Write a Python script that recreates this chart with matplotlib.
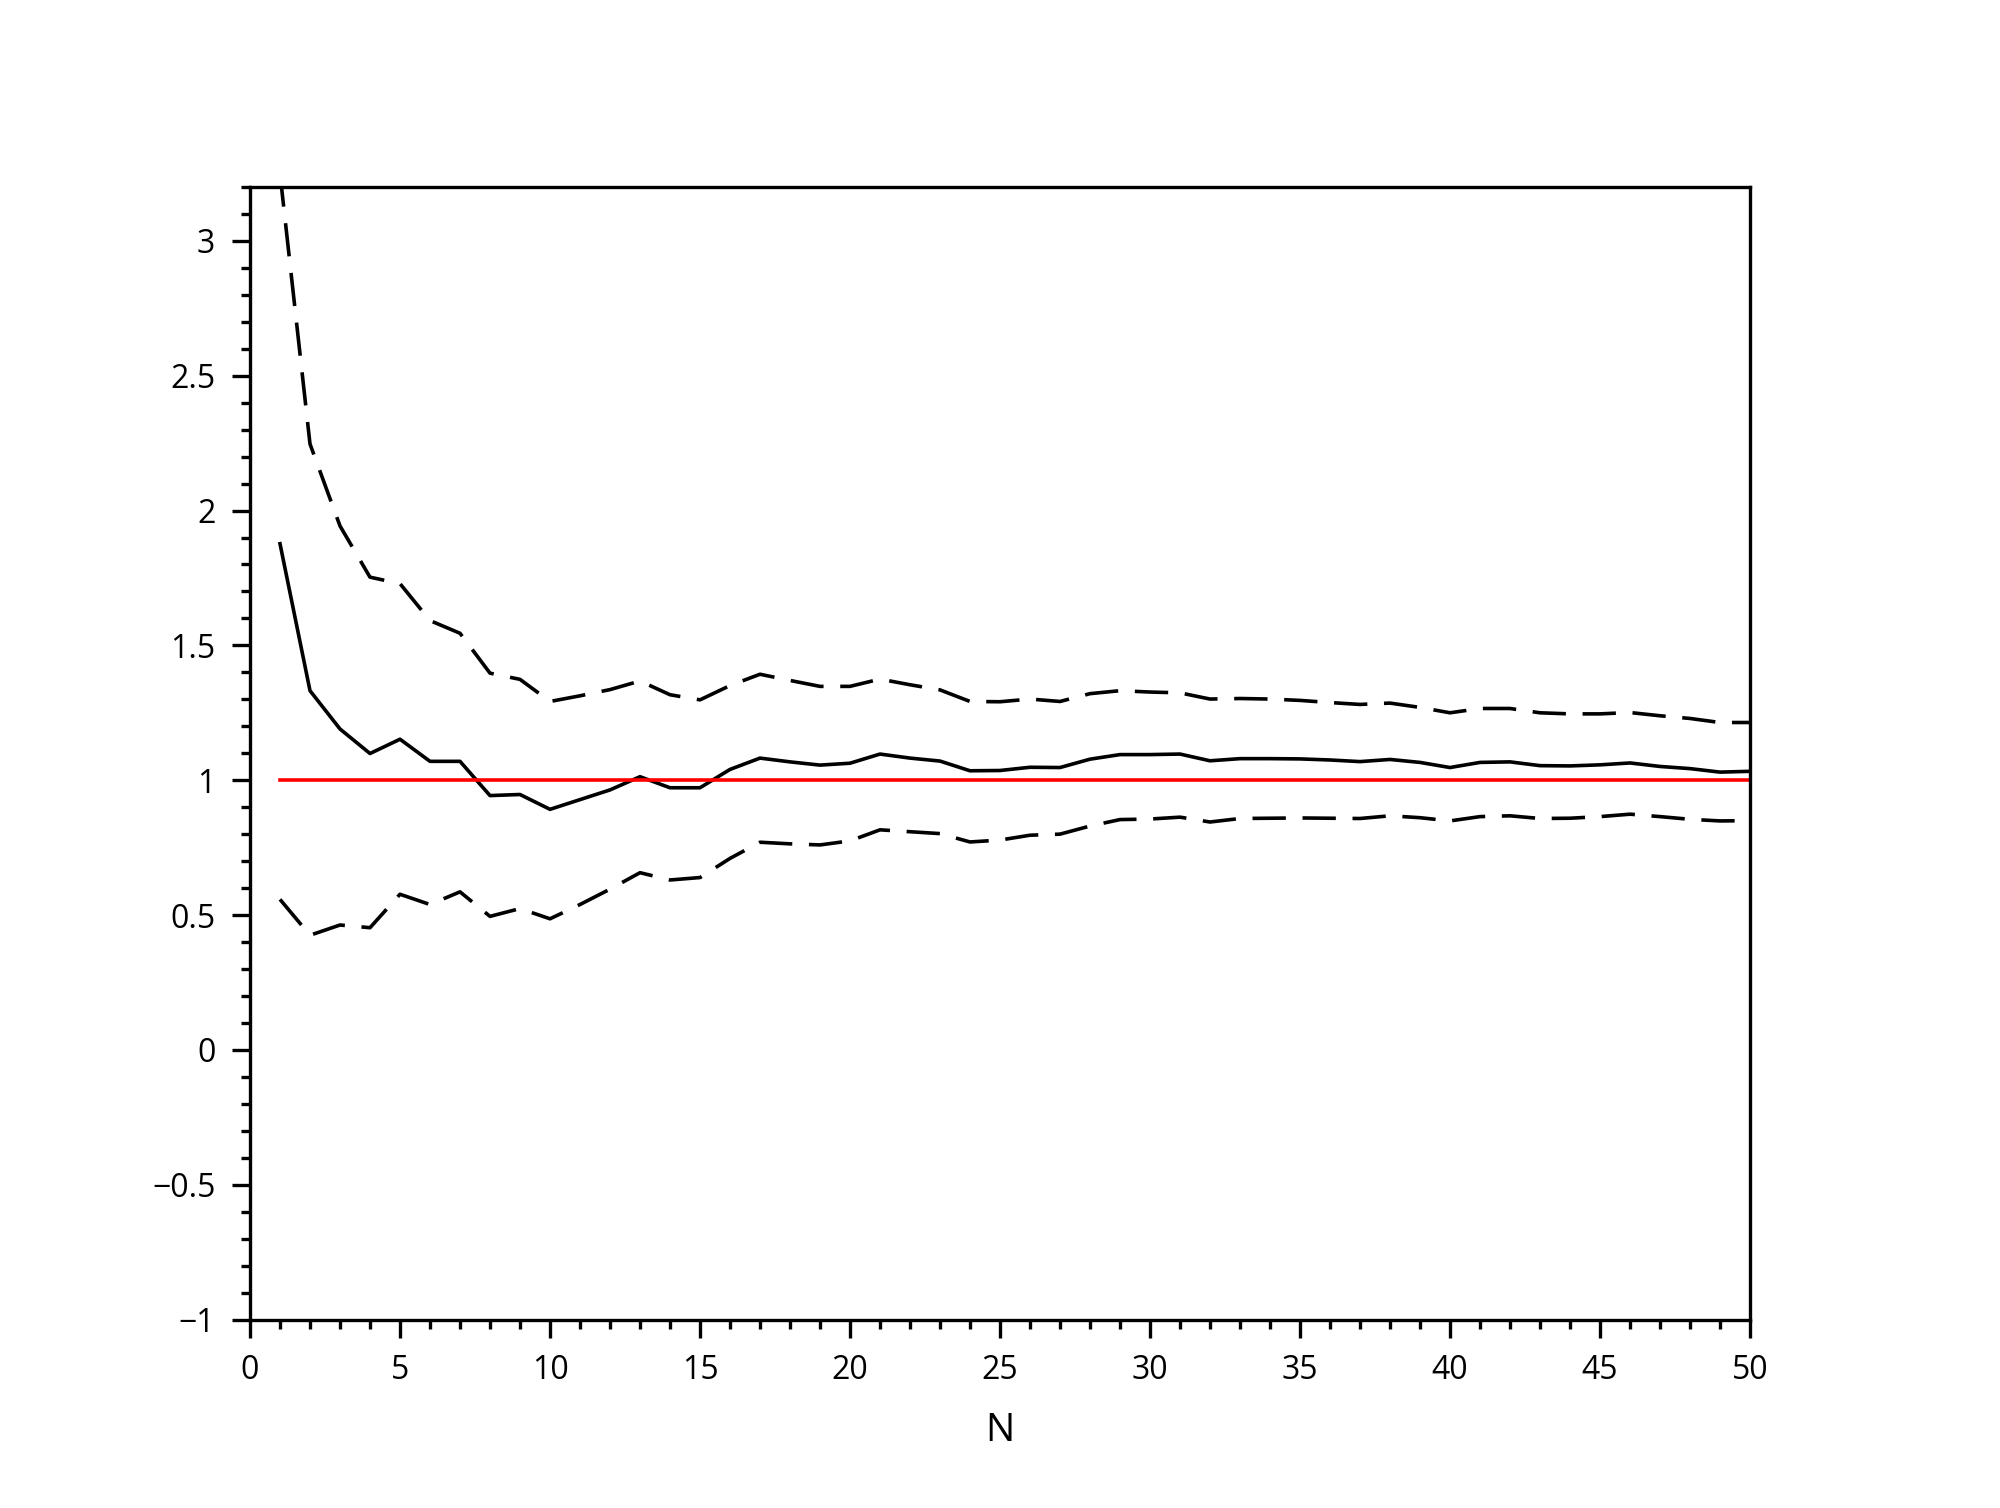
import matplotlib
matplotlib.use("Agg")
import matplotlib.pyplot as plt
from matplotlib.ticker import MultipleLocator, FuncFormatter
import numpy as np

plt.rcParams['font.family'] = ['Open Sans', 'DejaVu Sans']
plt.rcParams['lines.scale_dashes'] = False

n_values = list(range(1, 51))

# estimated mean
mean_vals = [1.877, 1.332, 1.19, 1.099, 1.152, 1.070, 1.070, 0.943, 0.947, 0.892,
             0.928, 0.964, 1.013, 0.972, 0.972, 1.040, 1.082, 1.068, 1.056, 1.063,
             1.097, 1.082, 1.071, 1.035, 1.036, 1.048, 1.047, 1.078, 1.095, 1.095,
             1.097, 1.072, 1.080, 1.080, 1.079, 1.075, 1.069, 1.077, 1.066, 1.047,
             1.066, 1.068, 1.054, 1.053, 1.057, 1.064, 1.051, 1.043, 1.030, 1.033]

# upper bound
upper_vals = [3.25, 2.247, 1.943, 1.753, 1.729, 1.592, 1.545, 1.397, 1.374, 1.292,
              1.313, 1.336, 1.368, 1.317, 1.298, 1.351, 1.393, 1.370, 1.348, 1.348,
              1.375, 1.354, 1.335, 1.292, 1.291, 1.301, 1.292, 1.321, 1.332, 1.327,
              1.324, 1.301, 1.303, 1.301, 1.296, 1.288, 1.281, 1.286, 1.270, 1.250,
              1.266, 1.266, 1.250, 1.246, 1.246, 1.251, 1.239, 1.229, 1.214, 1.214]

# lower bound
lower_vals = [0.558, 0.425, 0.463, 0.453, 0.577, 0.539, 0.586, 0.495, 0.524, 0.486,
              0.539, 0.596, 0.657, 0.630, 0.639, 0.710, 0.770, 0.764, 0.760, 0.775,
              0.816, 0.809, 0.802, 0.771, 0.778, 0.796, 0.800, 0.830, 0.854, 0.856,
              0.863, 0.845, 0.858, 0.859, 0.860, 0.859, 0.858, 0.868, 0.861, 0.849,
              0.865, 0.868, 0.858, 0.859, 0.865, 0.874, 0.865, 0.855, 0.849, 0.850]

true_value = [1.0] * len(n_values)

fig = plt.figure(figsize=(20, 15.08), dpi=100)
ax = fig.add_axes([0.125, 0.125, 0.75, 0.751])

lw = 2.6
ax.plot(n_values, upper_vals, color='black', lw=lw, dashes=(24, 12))
ax.plot(n_values, lower_vals, color='black', lw=lw, dashes=(24, 12))
ax.plot(n_values, mean_vals, color='black', lw=lw)
ax.plot(n_values, true_value, color='red', lw=lw)

ax.set_xlim(0, 50)
ax.set_ylim(-1, 3.2)

ax.xaxis.set_major_locator(MultipleLocator(5))
ax.xaxis.set_minor_locator(MultipleLocator(1))
ax.yaxis.set_major_locator(MultipleLocator(0.5))
ax.yaxis.set_minor_locator(MultipleLocator(0.1))

def fmt(v, pos):
    s = ('%g' % v)
    return s.replace('-', '\u2212')

ax.yaxis.set_major_formatter(FuncFormatter(fmt))

ax.tick_params(which='major', direction='out', length=13, width=2.4,
               labelsize=23, pad=12, top=False, right=False)
ax.tick_params(which='minor', direction='out', length=6.5, width=2.4,
               top=False, right=False)

for sp in ax.spines.values():
    sp.set_linewidth(2.4)

ax.set_xlabel('N', fontsize=28, labelpad=18)

fig.savefig('out.png', dpi=100, facecolor='white')
